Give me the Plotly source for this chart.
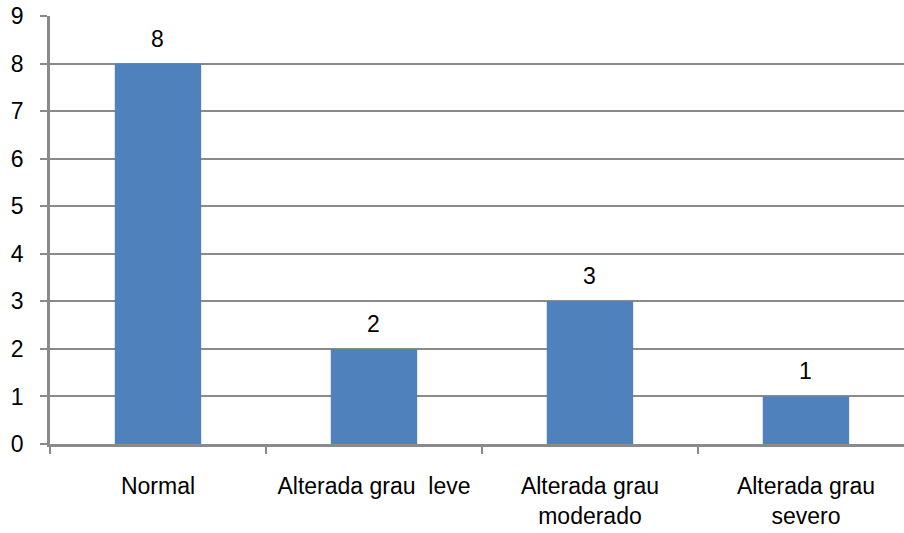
import plotly.graph_objects as go

categories = ["Normal", "Alterada grau  leve", "Alterada grau<br>moderado", "Alterada grau<br>severo"]
counts = [8, 2, 3, 1]
y_ticks = list(range(0, 10))

bar_color = "#4F81BD"
grid_color = "#8A8A8A"
font_family = "Liberation Sans, Arial, sans-serif"
font_size = 23

fig = go.Figure()
fig.add_trace(go.Bar(
    x=categories,
    y=counts,
    marker=dict(color=bar_color, line=dict(width=0)),
    width=0.4,
    hoverinfo="skip",
))

# value labels above each bar
for cat, val in zip(categories, counts):
    fig.add_annotation(
        x=cat, y=val, text=str(val), showarrow=False,
        yanchor="bottom", yshift=10,
        font=dict(size=font_size, color="black", family=font_family),
    )

fig.update_layout(
    width=904, height=533,
    margin=dict(l=50, r=0, t=16, b=89),
    paper_bgcolor="white", plot_bgcolor="white",
    showlegend=False,
    bargap=0.6,
    font=dict(family=font_family, size=font_size, color="black"),
)
fig.update_xaxes(
    type="category",
    range=[-0.5, 3.454],
    tickson="boundaries",
    ticks="outside", ticklen=7, tickcolor=grid_color, tickwidth=2,
    showline=True, linecolor=grid_color, linewidth=2.5,
    showgrid=False,
    ticklabelstandoff=20,
    tickfont=dict(size=font_size, color="black"),
)
fig.update_yaxes(
    range=[0, 9],
    tickvals=y_ticks,
    ticks="outside", ticklen=7, tickcolor=grid_color, tickwidth=2,
    showline=True, linecolor=grid_color, linewidth=2.5,
    showgrid=True, gridcolor=grid_color, gridwidth=2,
    zeroline=False,
    ticklabelstandoff=12,
    tickfont=dict(size=font_size, color="black"),
)

fig.write_html("out.html")
